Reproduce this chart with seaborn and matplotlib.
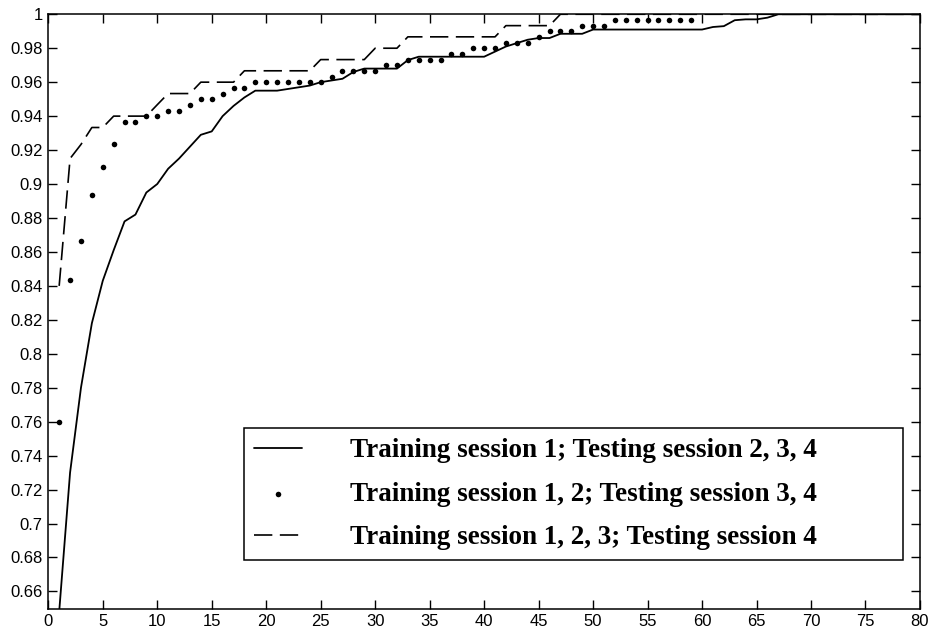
import numpy as np
import pandas as pd
import matplotlib
matplotlib.use("Agg")
import matplotlib.pyplot as plt
import seaborn as sns

# Cumulative recognition rate versus rank for three train/test session splits
rank_a = list(range(1, 81))
rate_a = [
    0.648, 0.730, 0.780, 0.818, 0.843, 0.861, 0.878, 0.882, 0.895, 0.900,
    0.909, 0.915, 0.922, 0.929, 0.931, 0.940, 0.946, 0.951, 0.955, 0.955,
    0.955, 0.956, 0.957, 0.958, 0.960, 0.961, 0.962, 0.966, 0.968, 0.968,
    0.968, 0.968, 0.973, 0.975, 0.975, 0.975, 0.975, 0.975, 0.975, 0.975,
    0.978, 0.981, 0.983, 0.985, 0.986, 0.986, 0.9885, 0.9885, 0.9885, 0.991,
    0.991, 0.991, 0.991, 0.991, 0.991, 0.991, 0.991, 0.991, 0.991, 0.991,
    0.9925, 0.993, 0.9965, 0.997, 0.997, 0.998, 1.0, 1.0, 1.0, 1.0,
    1.0, 1.0, 1.0, 1.0, 1.0, 1.0, 1.0, 1.0, 1.0, 1.0,
]

rank_b = list(range(1, 60))
rate_b = [
    0.7600, 0.8433, 0.8667, 0.8933, 0.9100, 0.9233, 0.9367, 0.9367, 0.9400, 0.9400,
    0.9433, 0.9433, 0.9467, 0.9500, 0.9500, 0.9533, 0.9567, 0.9567, 0.9600, 0.9600,
    0.9600, 0.9600, 0.9600, 0.9600, 0.9600, 0.9633, 0.9667, 0.9667, 0.9667, 0.9667,
    0.9700, 0.9700, 0.9733, 0.9733, 0.9733, 0.9733, 0.9767, 0.9767, 0.9800, 0.9800,
    0.9800, 0.9833, 0.9833, 0.9833, 0.9867, 0.9900, 0.9900, 0.9900, 0.9933, 0.9933,
    0.9933, 0.9967, 0.9967, 0.9967, 0.9967, 0.9967, 0.9967, 0.9967, 0.9967,
]

rank_c = list(range(1, 81))
rate_c = [
    0.8400, 0.9150, 0.9233, 0.9333, 0.9333, 0.9400, 0.9400, 0.9400, 0.9400, 0.9467,
    0.9533, 0.9533, 0.9533, 0.9600, 0.9600, 0.9600, 0.9600, 0.9667, 0.9667, 0.9667,
    0.9667, 0.9667, 0.9667, 0.9667, 0.9733, 0.9733, 0.9733, 0.9733, 0.9733, 0.9800,
    0.9800, 0.9800, 0.9867, 0.9867, 0.9867, 0.9867, 0.9867, 0.9867, 0.9867, 0.9867,
    0.9867, 0.9933, 0.9933, 0.9933, 0.9933, 0.9933, 1.0, 1.0, 1.0, 1.0,
    1.0, 1.0, 1.0, 1.0, 1.0, 1.0, 1.0, 1.0, 1.0, 1.0,
    1.0, 1.0, 1.0, 1.0, 1.0, 1.0, 1.0, 1.0, 1.0, 1.0,
    1.0, 1.0, 1.0, 1.0, 1.0, 1.0, 1.0, 1.0, 1.0, 1.0,
]

labels = [
    "Training session 1; Testing session 2, 3, 4",
    "Training session 1, 2; Testing session 3, 4",
    "Training session 1, 2, 3; Testing session 4",
]

x_ticks = list(range(0, 81, 5))
y_ticks = [round(v, 2) for v in np.arange(0.66, 1.0001, 0.02)]

sns.set_theme(style="ticks")
plt.rcParams["font.family"] = ["Liberation Sans", "DejaVu Sans"]
plt.rcParams["text.color"] = "black"
plt.rcParams["xtick.color"] = "black"
plt.rcParams["ytick.color"] = "black"
plt.rcParams["axes.labelcolor"] = "black"

df_a = pd.DataFrame({"rank": rank_a, "rate": rate_a})
df_b = pd.DataFrame({"rank": rank_b, "rate": rate_b})
df_c = pd.DataFrame({"rank": rank_c, "rate": rate_c})

fig = plt.figure(figsize=(9.32, 6.34), dpi=100)
ax = fig.add_axes([0.0518, 0.039, 0.9353, 0.9385])

sns.lineplot(data=df_a, x="rank", y="rate", ax=ax, color="black",
             linewidth=1.3, label=labels[0])
sns.scatterplot(data=df_b, x="rank", y="rate", ax=ax, color="black",
                marker="o", s=16, linewidth=0, label=labels[1])
sns.lineplot(data=df_c, x="rank", y="rate", ax=ax, color="black",
             linewidth=1.2, linestyle=(0, (11, 4.5)), label=labels[2])

ax.set_xlim(0, 80)
ax.set_ylim(0.6495, 1.0)
ax.set_xticks(x_ticks)
ax.set_xticklabels([str(v) for v in x_ticks])
ax.set_yticks(y_ticks)
ax.set_yticklabels([f"{v:g}" for v in y_ticks])
ax.set_xlabel("")
ax.set_ylabel("")

for side in ["top", "right", "bottom", "left"]:
    ax.spines[side].set_visible(True)
    ax.spines[side].set_color("black")
    ax.spines[side].set_linewidth(1.1)

ax.tick_params(axis="both", direction="in", length=6.5, width=1.0, color="black",
               labelsize=12, labelcolor="black", top=True, right=True)
ax.tick_params(axis="y", pad=4)
ax.tick_params(axis="x", pad=3.5)

leg = ax.legend(
    loc="upper left",
    bbox_to_anchor=(0.2245, 0.0857, 0.7557, 0.2184),
    mode="expand",
    borderaxespad=0,
    frameon=True,
    fancybox=False,
    edgecolor="black",
    scatterpoints=1,
    handlelength=1.77,
    handletextpad=1.77,
    borderpad=0.37,
    labelspacing=0.68,
    labelcolor="black",
    prop={"family": "Liberation Serif", "weight": "bold", "size": 19.5},
)
leg.get_frame().set_linewidth(1.1)
leg.get_frame().set_alpha(1)

fig.savefig("out.png", dpi=100, facecolor="white")
